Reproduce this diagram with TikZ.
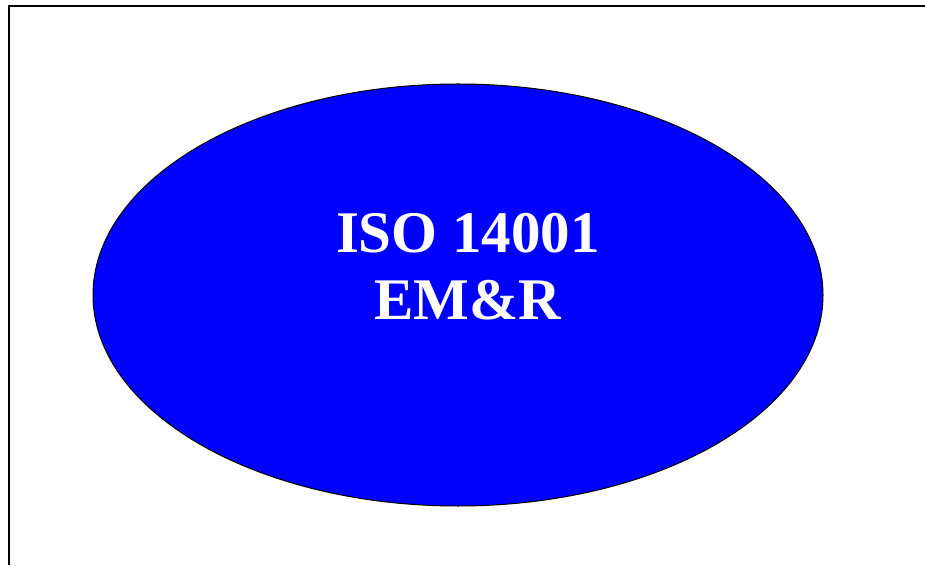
\documentclass[tikz,border=0pt]{standalone}
\usepackage{fontspec}
\setmainfont{Liberation Serif}
\usetikzlibrary{shapes.geometric}
\definecolor{isoblue}{RGB}{0,0,255}
\tikzset{
  lbl/.style={text=white, font=\bfseries\fontsize{59}{67}\selectfont, anchor=base, inner sep=0pt},
  oval/.style={draw=black, line width=1pt, fill=isoblue}
}
\begin{document}
\begin{tikzpicture}[x=1pt,y=1pt]
\useasboundingbox (0,0) rectangle (925,565);
\draw[line width=2pt] (9,0) -- (9,559) -- (925,559);
\node[oval, ellipse, minimum width=730, minimum height=422, inner sep=0pt] (e) at (458,270) {};
\node[lbl] (t1) at (468,312) {ISO 14001};
\node[lbl] (t2) at (468,245) {EM\&R};
\end{tikzpicture}
\end{document}
